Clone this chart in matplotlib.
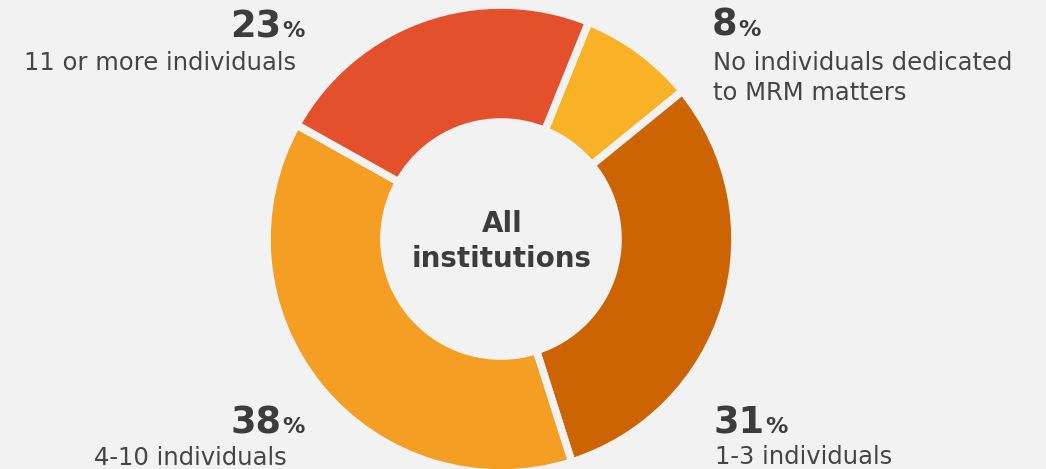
import matplotlib
matplotlib.use('Agg')
import matplotlib.pyplot as plt

# data
categories = ['No individuals dedicated\nto MRM matters', '1-3 individuals',
              '4-10 individuals', '11 or more individuals']
shares = [8, 31, 38, 23]
colors = ['#f9b225', '#cc6404', '#f49e24', '#e4502b']
center_label = ['All', 'institutions']

W, H = 1046, 469
bg = '#f2f2f2'
txt = '#3c3c3c'
plt.rcParams['font.family'] = ['DejaVu Sans']

fig = plt.figure(figsize=(W / 100, H / 100), dpi=100, facecolor=bg)

# donut: centre (501, 239) px, outer radius ~234 px
cx, cy, r = 501, 239, 234
ax = fig.add_axes([(cx - r) / W, (H - cy - r) / H, 2 * r / W, 2 * r / H])
ax.set_facecolor(bg)
ax.pie(shares, colors=colors, startangle=68, counterclock=False, radius=1,
       wedgeprops=dict(width=0.5, edgecolor=bg, linewidth=5.5))
ax.set_xlim(-1, 1)
ax.set_ylim(-1, 1)
ax.set_aspect('equal')
ax.axis('off')

renderer = fig.canvas.get_renderer()


def fx(x):
    return x / W


def fy(y):
    return 1 - y / H


# centre label
fig.text(fx(502), fy(232), center_label[0], ha='center', va='baseline',
         fontsize=20, fontweight='bold', color=txt)
fig.text(fx(502), fy(267), center_label[1], ha='center', va='baseline',
         fontsize=20, fontweight='bold', color=txt)


def pct_left(value, x, y):
    # left aligned number followed by a small percent sign
    t = fig.text(fx(x), fy(y), str(value), fontsize=26.5, fontweight='bold',
                 color=txt, ha='left', va='baseline')
    bb = t.get_window_extent(renderer)
    fig.text(fx(bb.x1 + 1), fy(y), '%', fontsize=16, fontweight='bold',
             color=txt, ha='left', va='baseline')


def pct_right(value, x, y):
    # right aligned: percent sign first, then the number before it
    p = fig.text(fx(x), fy(y), '%', fontsize=16, fontweight='bold',
                 color=txt, ha='right', va='baseline')
    bb = p.get_window_extent(renderer)
    fig.text(fx(bb.x0 - 1), fy(y), str(value), fontsize=26.5, fontweight='bold',
             color=txt, ha='right', va='baseline')


lab_kw = dict(fontsize=17.5, color='#454545', va='baseline')

# 8% - top right
pct_left(shares[0], 712, 36)
fig.text(fx(713), fy(70), categories[0].split('\n')[0], ha='left', **lab_kw)
fig.text(fx(713), fy(100), categories[0].split('\n')[1], ha='left', **lab_kw)

# 31% - bottom right
pct_left(shares[1], 713, 433)
fig.text(fx(715), fy(464), categories[1], ha='left', **lab_kw)

# 38% - bottom left
pct_right(shares[2], 305, 433)
fig.text(fx(287), fy(465), categories[2], ha='right', **lab_kw)

# 23% - top left
pct_right(shares[3], 305, 37)
fig.text(fx(296), fy(70), categories[3], ha='right', **lab_kw)

fig.savefig('out.png', dpi=100, facecolor=bg)
